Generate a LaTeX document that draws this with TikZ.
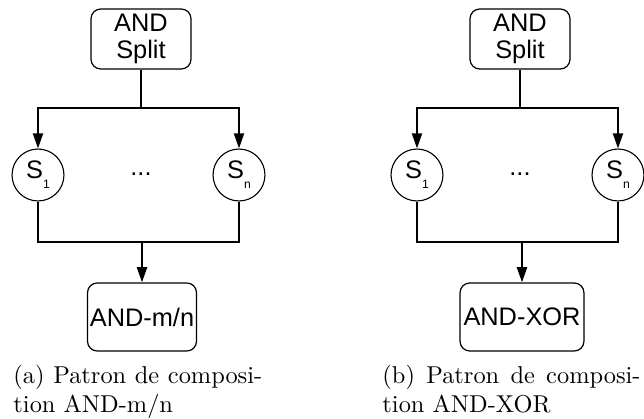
\documentclass[tikz,border=0pt]{standalone}
\usepackage{fontspec}
\newfontfamily\arial{Liberation Sans}
\usetikzlibrary{arrows.meta}
\newcommand\svcsub[1]{\raisebox{-4pt}{\fontsize{5}{6}\selectfont#1}}
\begin{document}
\begin{tikzpicture}[x=0.41pt,y=-0.41pt,>={Triangle[length=6.2pt,width=4.1pt]},
		box/.style={draw,rounded corners=4pt,line width=0.5pt,inner sep=0pt,align=center,font=\arial\fontsize{10.4}{11.4}\selectfont},
		svc/.style={draw,circle,line width=0.45pt,minimum size=21.3pt,inner sep=0pt,font=\arial\fontsize{10.4}{12}\selectfont},
		dots/.style={inner sep=0pt,font=\arial\fontsize{10.4}{12}\selectfont},
		link/.style={line width=0.8pt},
		subcap/.style={anchor=base west,align=left,inner sep=0pt}]
				\useasboundingbox (0,0) rectangle (644,419);
				% (a) AND-m/n
				\node[box,minimum width=41pt,minimum height=24.6pt] (split-a) at (141,39) {AND\\Split};
				\node[svc] (s1-a) at (38,175) {S\svcsub{1}};
				\node[svc] (sn-a) at (239,175) {S\svcsub{n}};
				\node[dots] (dots-a) at (141,174) {...};
				\node[box,minimum width=44.7pt,minimum height=27.9pt] (andmn) at (142,317) {AND-m/n};
				\coordinate (fork-a) at (141,108);
				\coordinate (join-a) at (142,242);
				\draw[link] (split-a) -- (fork-a);
				\draw[link,->] (fork-a) -| (s1-a);
				\draw[link,->] (fork-a) -| (sn-a);
				\draw[link] (s1-a) |- (join-a) -| (sn-a);
				\draw[link,->] (join-a) -- (andmn);
				\node[subcap] (cap-a) at (13,413) {\makebox[102pt][s]{(a) Patron de composi-}\\tion AND-m/n};
				% (b) AND-XOR
				\node[box,minimum width=41pt,minimum height=24.6pt] (split-b) at (520,39) {AND\\Split};
				\node[svc] (s1-b) at (417,175) {S\svcsub{1}};
				\node[svc] (sn-b) at (618,175) {S\svcsub{n}};
				\node[dots] (dots-b) at (520,174) {...};
				\node[box,minimum width=50.8pt,minimum height=27.9pt] (andxor) at (522,317) {AND-XOR};
				\coordinate (fork-b) at (520,108);
				\coordinate (join-b) at (522,242);
				\draw[link] (split-b) -- (fork-b);
				\draw[link,->] (fork-b) -| (s1-b);
				\draw[link,->] (fork-b) -| (sn-b);
				\draw[link] (s1-b) |- (join-b) -| (sn-b);
				\draw[link,->] (join-b) -- (andxor);
				\node[subcap] (cap-b) at (382,413) {\makebox[105.8pt][s]{(b) Patron de composi-}\\tion AND-XOR};
		\end{tikzpicture}
\end{document}
